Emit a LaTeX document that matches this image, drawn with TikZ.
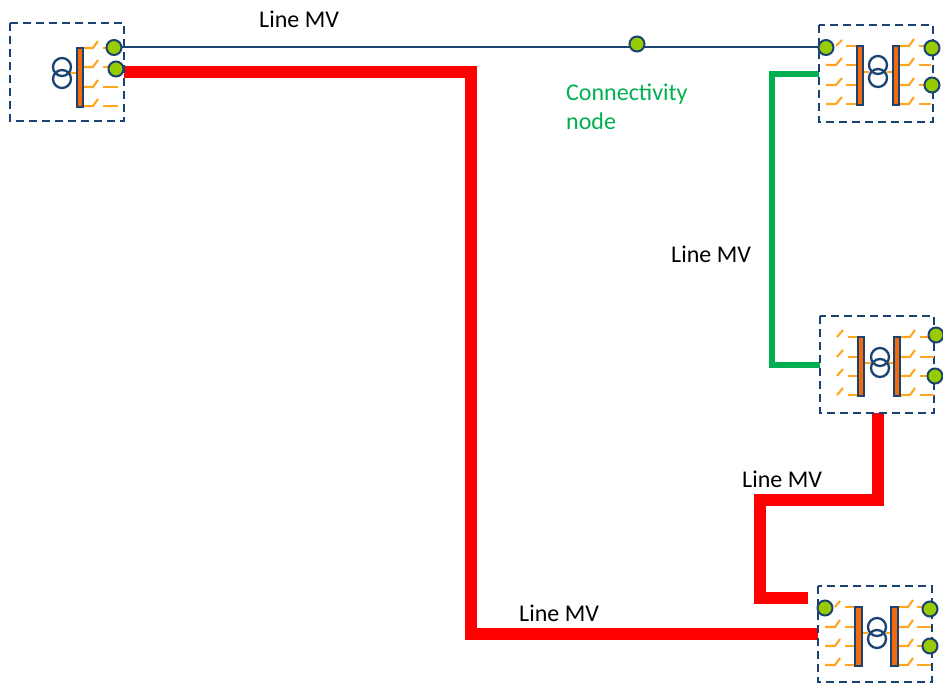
\documentclass[tikz,border=0pt]{standalone}
\usepackage{fontspec}
\setmainfont{Carlito}
\definecolor{deepnavy}{HTML}{1A4272}
\definecolor{swor}{HTML}{FFA51F}
\definecolor{baror}{HTML}{F26A0A}
\definecolor{term}{HTML}{99CC00}
\definecolor{lred}{HTML}{FF0000}
\definecolor{lgreen}{HTML}{00B050}
\tikzset{
  subst/.style={draw=deepnavy,line width=1.9pt,dash pattern=on 8pt off 5pt},
  busbar/.style={draw=deepnavy,fill=baror,line width=2pt},
  sw/.style={draw=swor,line width=2.1pt},
  wind/.style={draw=deepnavy,line width=2.3pt},
  terminal/.style={circle,draw=deepnavy,fill=term,line width=2pt,minimum size=15pt,inner sep=0pt},
  lbl/.style={font=\fontsize{24}{29}\selectfont,text=black,align=left,inner sep=0pt},
  mv/.style={line width=12pt,draw=lred},
}
\begin{document}
\begin{tikzpicture}[x=1pt,y=-1pt]
\useasboundingbox (0,0) rectangle (943,685);
\fill[white] (0,0) rectangle (943,685);

% wires first
\coordinate (g1) at (819,74); \coordinate (g2) at (772,74); \coordinate (g3) at (772,365); \coordinate (g4) at (820,365);
\draw[lgreen,line width=6pt] (g1) -- (g2) -- (g3) -- (g4);
\coordinate (r1) at (124,72); \coordinate (r2) at (471,72); \coordinate (r3) at (471,634); \coordinate (r4) at (818,634);
\draw[mv] (r1) -- (r2) -- (r3) -- (r4);
\coordinate (s1) at (878,413); \coordinate (s2) at (878,500); \coordinate (s3) at (760,500); \coordinate (s4) at (760,598); \coordinate (s5) at (808,598);
\draw[mv] (s1) -- (s2) -- (s3) -- (s4) -- (s5);

% substation boxes
\draw[subst] (10,23) rectangle (124,121);
\draw[subst] (819,25) rectangle (933,122);
\draw[subst] (820,316) rectangle (934,413);
\draw[subst] (818,586) rectangle (932,682);

% box 1
\draw[sw] (70,73) -- (77,73);
\foreach \y in {48,67,87,106}{
  \draw[sw] (83,\y) -- (93,\y) -- (98,\y-7);
  \draw[sw] (103,\y) -- (118,\y);
}
\draw[busbar] (77,48) rectangle (83,107);
\draw[wind] (62,67) circle (9); \draw[wind] (62,79) circle (9);

% box 2
\draw[sw] (863,72) -- (869,72);
\draw[sw] (887,72) -- (893,72);
\foreach \y in {46,65,85,104}{
  \draw[sw] (846,\y) -- (856,\y);
  \draw[sw] (899,\y) -- (909,\y) -- (914,\y-7);
  \draw[sw] (919,\y) -- (931,\y);
}
\draw[sw] (836,46) -- (842,40);
\foreach \y in {65,85,104}{ \draw[sw] (826,\y) -- (836,\y) -- (842,\y-7); }
\draw[busbar] (857,46) rectangle (863,105);
\draw[busbar] (893,46) rectangle (899,105);
\draw[wind] (878,65) circle (9); \draw[wind] (878,78) circle (9);

% box 3
\draw[sw] (864,363) -- (871,363);
\draw[sw] (889,363) -- (894,363);
\foreach \y in {337,357,376,395}{
  \draw[sw] (848,\y) -- (858,\y);
  \draw[sw] (837,\y) -- (843,\y-7);
  \draw[sw] (900,\y) -- (910,\y) -- (915,\y-7);
  \draw[sw] (920,\y) -- (934,\y);
}
\draw[busbar] (858,337) rectangle (864,396);
\draw[busbar] (894,337) rectangle (900,396);
\draw[wind] (880,357) circle (9); \draw[wind] (880,368) circle (9);

% box 4
\draw[sw] (862,633) -- (868,633);
\draw[sw] (886,633) -- (891,633);
\foreach \y in {607,627,646,665}{
  \draw[sw] (845,\y) -- (855,\y);
  \draw[sw] (898,\y) -- (908,\y) -- (913,\y-7);
  \draw[sw] (917,\y) -- (931,\y);
}
\draw[sw] (835,607) -- (840,601);
\foreach \y in {627,646,665}{ \draw[sw] (825,\y) -- (835,\y) -- (840,\y-7); }
\draw[busbar] (855,607) rectangle (862,666);
\draw[busbar] (891,607) rectangle (898,666);
\draw[wind] (877,627) circle (9); \draw[wind] (877,639) circle (9);

% connector under terminals
\coordinate (w1) at (114,47.5); \coordinate (w2) at (826,47.5);
\draw[deepnavy,line width=2pt] (w1) -- (w2);

% terminals
\node[terminal] (t1) at (w1) {};
\node[terminal] (t2) at (116,69) {};
\node[terminal] (t3) at (w2) {};
\node[terminal] (t4) at (932,48) {};
\node[terminal] (t5) at (932,85) {};
\node[terminal] (t6) at (936,335) {};
\node[terminal] (t7) at (935,376) {};
\node[terminal] (t8) at (825,608) {};
\node[terminal] (t9) at (930,609) {};
\node[terminal] (t10) at (930,646) {};
\node[terminal] (cn) at (637,44) {};

% labels
\node[lbl,anchor=west] (l1) at (259,19) {Line MV};
\node[lbl,anchor=west,text=lgreen] (l2) at (566,107) {Connectivity\\node};
\node[lbl,anchor=west] (l3) at (671,254) {Line MV};
\node[lbl,anchor=west] (l4) at (742,479) {Line MV};
\node[lbl,anchor=west] (l5) at (519,613) {Line MV};
\end{tikzpicture}
\end{document}
